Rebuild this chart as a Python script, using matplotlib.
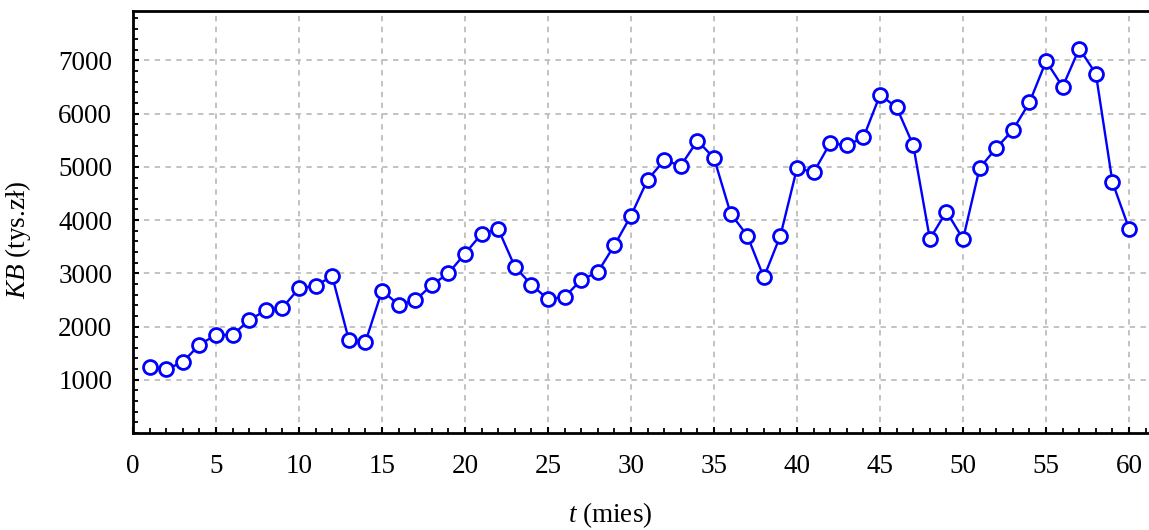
import matplotlib
matplotlib.use("Agg")
import matplotlib.pyplot as plt
from matplotlib.ticker import MultipleLocator, FixedLocator

plt.rcParams['font.family'] = ['Liberation Serif', 'DejaVu Serif']
plt.rcParams['mathtext.fontset'] = 'custom'
plt.rcParams['mathtext.rm'] = 'Liberation Serif'
plt.rcParams['mathtext.it'] = 'Liberation Serif:italic'

t = list(range(1, 61))
kb = [1245, 1197, 1333, 1659, 1844, 1844, 2121, 2306, 2355, 2719,
      2768, 2945, 1752, 1709, 2676, 2411, 2491, 2781, 3002, 3372,
      3742, 3834, 3125, 2785, 2514, 2557, 2877, 3025, 3529, 4086,
      4760, 5123, 5025, 5492, 5166, 4123, 3711, 2925, 3711, 4982,
      4898, 5450, 5405, 5554, 6354, 6118, 5405, 3645, 4162, 3645,
      4981, 5354, 5695, 6211, 6988, 6506, 7225, 6750, 4712, 3838]
x_ticks = [0, 5, 10, 15, 20, 25, 30, 35, 40, 45, 50, 55, 60]
y_ticks = [1000, 2000, 3000, 4000, 5000, 6000, 7000]

fig = plt.figure(figsize=(11.49, 5.30), dpi=100)
ax = fig.add_axes([133/1149, (530-433)/530, (1149-133)/1149, (433-11)/530])

ax.plot(t, kb, color='#0000ff', lw=1.7, marker='o', markersize=10,
        markerfacecolor='white', markeredgecolor='#0000ff', markeredgewidth=2.0,
        zorder=3, clip_on=False)

ax.set_xlim(0, 61.2)
ax.set_ylim(0, 7930)
ax.xaxis.set_major_locator(FixedLocator(x_ticks))
ax.yaxis.set_major_locator(FixedLocator(y_ticks))
ax.xaxis.set_minor_locator(MultipleLocator(1))
ax.yaxis.set_minor_locator(MultipleLocator(200))

ax.grid(True, which='major', color='#bdbdbd', linestyle=(0, (3, 3)), lw=1.3, zorder=0)

ax.tick_params(axis='both', which='major', direction='in', length=4, width=1.5,
               labelsize=19.5)
ax.tick_params(axis='both', which='minor', direction='in', length=3.5, width=1.3)
ax.tick_params(axis='y', which='major', pad=15)
ax.tick_params(axis='x', which='major', pad=15)
ax.tick_params(top=False, right=False, which='both')

for s in ['left', 'bottom', 'top']:
    ax.spines[s].set_linewidth(2.0)
ax.spines['right'].set_visible(False)

ax.set_xlabel(r'$t$ (mies)', fontsize=19.5)
ax.set_ylabel(r'$KB$ (tys.zł)', fontsize=19.5)
ax.xaxis.set_label_coords((610-133)/1016, -(515-433)/422, transform=ax.transAxes)
ax.yaxis.set_label_coords(-(133-18)/1016, (433-240)/422, transform=ax.transAxes)
ax.xaxis.label.set_va('center')
ax.yaxis.label.set_va('center')

fig.savefig('out.png', dpi=100)
